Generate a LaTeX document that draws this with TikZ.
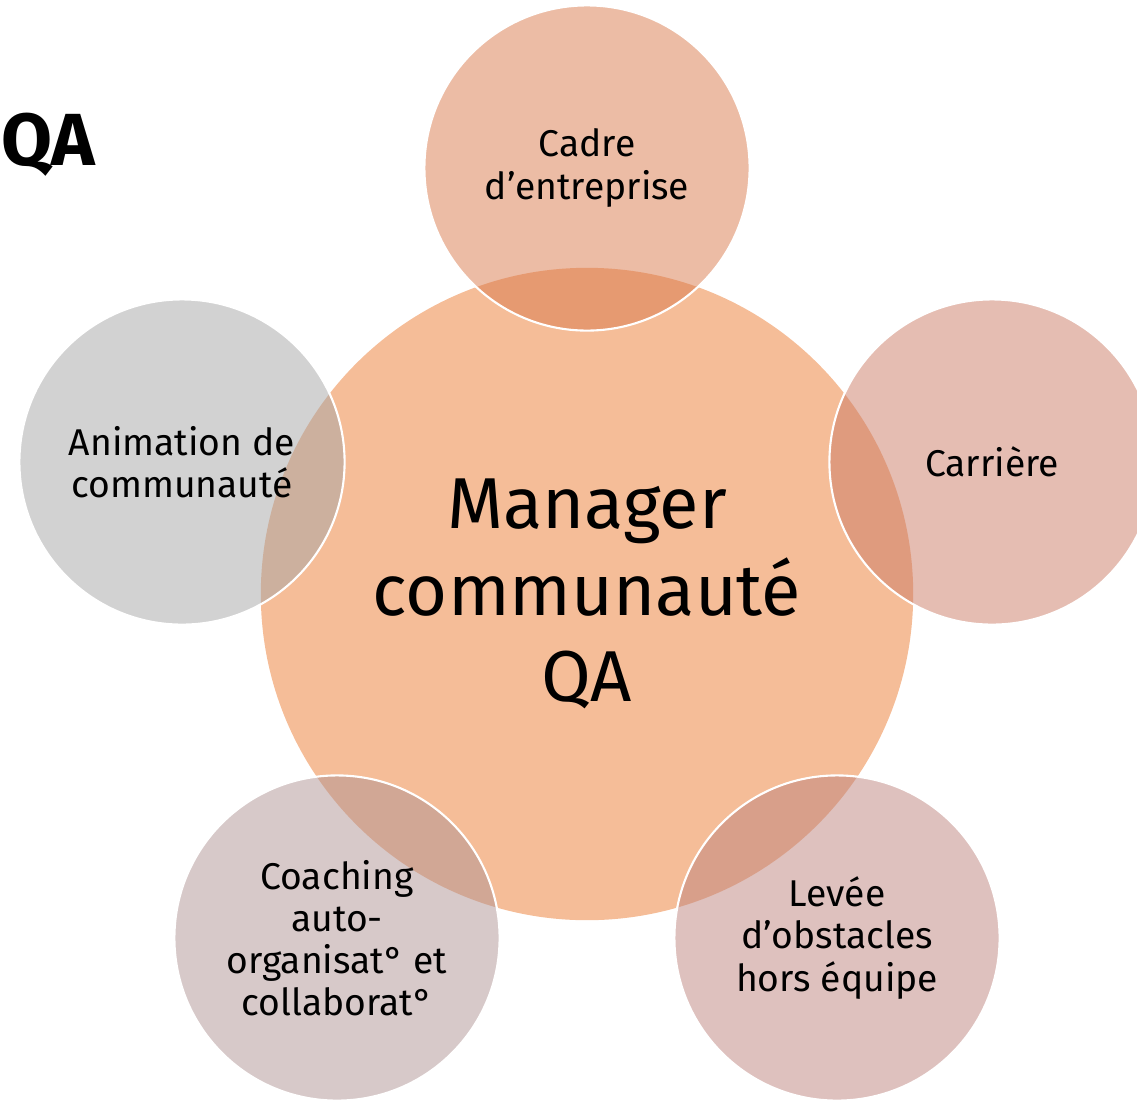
\documentclass[tikz,border=0pt]{standalone}
\usepackage{fontspec}
\setmainfont{Fira Sans}

\definecolor{hubfill}{RGB}{245,189,152}
\definecolor{cadrefill}{RGB}{217,121,75}
\definecolor{carrierefill}{RGB}{203,123,101}
\definecolor{leveefill}{RGB}{189,131,125}
\definecolor{coachingfill}{RGB}{175,147,147}
\definecolor{animationfill}{RGB}{165,165,165}

\begin{document}
\begin{tikzpicture}[
      x=0.01cm, y=-0.01cm,
      every node/.style={align=center, text=black, inner sep=0pt},
      hub/.style={circle, fill=hubfill, minimum size=6.52cm, font=\fontsize{20.5}{24.5}\selectfont},
      petal/.style={circle, draw=white, line width=0.6pt, fill opacity=0.5, text opacity=1,
                    minimum size=3.25cm, font=\fontsize{10.6}{12}\selectfont},
      titre/.style={font=\fontsize{21}{21}\selectfont\bfseries}
    ]

      \useasboundingbox (0,0) rectangle (1137,1100);
      \clip (0,0) rectangle (1137,1100);

      % titre en haut à gauche
      \node[titre, anchor=base west] (titre) at (1,165) {QA};

      % cercle central
      \node[hub] (hub) at (587,594) {Manager\\communauté\\QA};

      % cercles autour
      \node[petal, fill=cadrefill] (cadre) at (587,168) {Cadre\\d’entreprise};
      \node[petal, fill=carrierefill] (carriere) at (992,462) {Carrière};
      \node[petal, fill=leveefill] (levee) at (837,938) {Levée\\d’obstacles\\hors équipe};
      \node[petal, fill=coachingfill] (coaching) at (337,938) {Coaching\\auto-\\organisat° et\\collaborat°};
      \node[petal, fill=animationfill] (animation) at (182,462) {Animation de\\communauté};

    \end{tikzpicture}
\end{document}
